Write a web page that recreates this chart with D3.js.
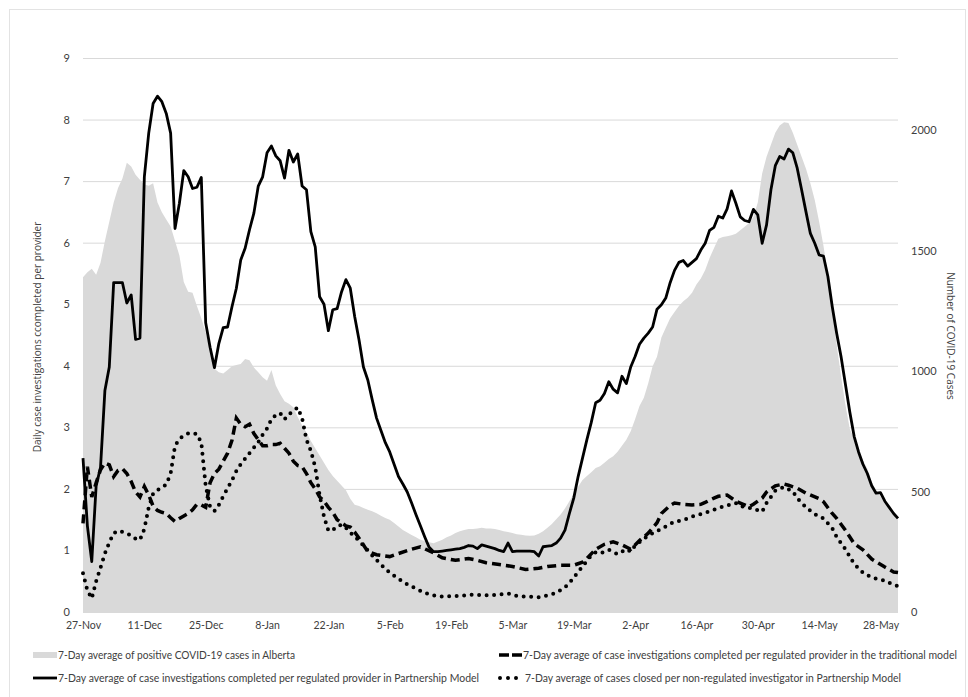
<!DOCTYPE html>
<html>
<head>
<meta charset="utf-8">
<script src="https://cdn.jsdelivr.net/npm/d3@7"></script>
<style>
  body { margin: 0; background: #fff; }
  svg text { font-family: "Lato", sans-serif; fill: #404040; }
</style>
</head>
<body>
<svg></svg>
<script>
// Data: days since 27-Nov-2020 and the values
// ------------------------------------------
var startDate = Date.UTC(2020, 10, 27);

// 7-day average of positive COVID-19 cases in Alberta (right axis), one value per day 0..186
var caseValues = [
  1390, 1410, 1425, 1400, 1450, 1540, 1620, 1700, 1760, 1800,
  1865, 1850, 1815, 1795, 1775, 1770, 1780, 1700, 1660, 1630,
  1600, 1540, 1480, 1370, 1330, 1325, 1270, 1220, 1160, 1090,
  1010, 995, 990, 1005, 1020, 1025, 1030, 1050, 1045, 1015,
  995, 975, 960, 1005, 940, 905, 875, 865, 850, 810,
  775, 745, 710, 680, 650, 620, 590, 565, 545, 525,
  505, 470, 445, 440, 432, 425, 418, 410, 400, 390,
  383, 370, 355, 340, 330, 320, 310, 300, 295, 290,
  285, 293, 300, 310, 318, 328, 335, 340, 345, 345,
  347, 350, 347, 347, 345, 340, 335, 332, 328, 323,
  321, 318, 317, 318, 325, 335, 350, 365, 385, 405,
  430, 460, 490, 520, 548, 565, 580, 598, 605, 620,
  635, 647, 665, 690, 715, 750, 800, 855, 890, 950,
  1020, 1060, 1140, 1180, 1220, 1245, 1270, 1290, 1305, 1325,
  1360, 1385, 1420, 1470, 1510, 1550, 1557, 1560, 1564, 1570,
  1585, 1599, 1615, 1640, 1700, 1820, 1890, 1940, 1990, 2020,
  2033, 2030, 1990, 1940, 1890, 1840, 1780, 1710, 1620, 1520,
  1400, 1260, 1110, 980, 860, 760, 720, 670, 630, 595,
  540, 505, 480, 455, 430, 410, 397
];

// regulated provider, Partnership Model (solid), one value per day 0..186
var partnerValues = [
  2.50, 1.40, 0.82, 2.05, 2.35, 3.60, 3.98, 5.35, 5.35, 5.35,
  5.02, 5.15, 4.43, 4.45, 7.07, 7.78, 8.26, 8.38, 8.29, 8.10,
  7.78, 6.23, 6.64, 7.17, 7.07, 6.88, 6.90, 7.06, 4.70, 4.30,
  3.97, 4.36, 4.62, 4.63, 4.96, 5.26, 5.72, 5.91, 6.21, 6.48,
  6.92, 7.07, 7.46, 7.57, 7.41, 7.33, 7.05, 7.50, 7.31, 7.44,
  6.92, 6.86, 6.18, 5.93, 5.12, 5.00, 4.57, 4.91, 4.93, 5.20,
  5.40, 5.26, 4.80, 4.42, 3.98, 3.77, 3.45, 3.15, 2.95, 2.75,
  2.60, 2.40, 2.20, 2.08, 1.95, 1.77, 1.58, 1.40, 1.22, 1.05,
  0.98, 0.98, 0.99, 1.00, 1.01, 1.02, 1.03, 1.05, 1.08, 1.07,
  1.03, 1.09, 1.07, 1.05, 1.03, 1.00, 0.98, 1.12, 0.98, 0.99,
  0.99, 0.99, 0.99, 0.98, 0.91, 1.06, 1.07, 1.08, 1.12, 1.20,
  1.33, 1.60, 1.85, 2.20, 2.50, 2.80, 3.08, 3.40, 3.44, 3.55,
  3.74, 3.62, 3.56, 3.83, 3.71, 3.98, 4.15, 4.35, 4.45, 4.53,
  4.63, 4.92, 4.99, 5.10, 5.35, 5.55, 5.68, 5.71, 5.62, 5.68,
  5.74, 5.88, 5.99, 6.20, 6.25, 6.43, 6.40, 6.55, 6.84, 6.64,
  6.42, 6.36, 6.34, 6.54, 6.45, 5.99, 6.29, 6.86, 7.25, 7.40,
  7.36, 7.52, 7.46, 7.21, 6.86, 6.50, 6.15, 5.99, 5.80, 5.78,
  5.45, 4.96, 4.53, 4.15, 3.70, 3.25, 2.85, 2.60, 2.40, 2.25,
  2.05, 1.93, 1.94, 1.80, 1.70, 1.60, 1.52
];

// regulated provider, traditional model (dashed)
var tradDays = [
  0, 1, 2, 3, 4, 5, 6, 7, 8, 9, 10, 11, 12, 13, 14, 15, 16, 17, 18, 19,
  20, 21, 22, 23, 24, 25, 26, 27, 28, 29, 30, 31, 32, 33, 34, 35, 36, 37, 38, 39,
  40, 41, 42, 43, 44, 45, 46, 47, 48, 49, 50, 51, 52, 53, 54, 55, 56, 57, 58, 59,
  60, 61, 62, 63, 65, 67, 70, 72, 75, 77, 80, 82, 85, 88, 90, 92, 95, 98, 101, 104,
  106, 109, 112, 114, 115, 117, 119, 121, 123, 125, 127, 129, 131, 132, 134, 135, 137, 139, 141, 142,
  144, 145, 147, 149, 150, 152, 153, 155, 156, 158, 160, 161, 163, 165, 168, 169, 171, 172, 174, 176,
  178, 180, 183, 185, 186
];
var tradValues = [
  1.44, 2.36, 1.87, 2.10, 2.31, 2.42, 2.39, 2.20, 2.30, 2.33, 2.25, 2.12, 1.95, 1.87, 2.04, 1.90, 1.72, 1.65, 1.62, 1.60,
  1.53, 1.47, 1.52, 1.56, 1.60, 1.66, 1.75, 1.74, 1.70, 2.10, 2.25, 2.32, 2.45, 2.58, 2.79, 3.15, 3.05, 3.01, 3.05, 2.90,
  2.80, 2.70, 2.70, 2.72, 2.72, 2.74, 2.66, 2.58, 2.45, 2.38, 2.36, 2.25, 2.10, 2.00, 1.87, 1.80, 1.70, 1.62, 1.50, 1.45,
  1.40, 1.38, 1.30, 1.20, 0.98, 0.93, 0.90, 0.95, 1.02, 1.06, 0.96, 0.88, 0.84, 0.87, 0.84, 0.80, 0.77, 0.74, 0.69, 0.71,
  0.74, 0.76, 0.76, 0.81, 0.87, 1.02, 1.10, 1.14, 1.09, 1.02, 1.16, 1.28, 1.45, 1.60, 1.73, 1.77, 1.75, 1.74, 1.75, 1.78,
  1.85, 1.88, 1.90, 1.80, 1.77, 1.71, 1.75, 1.85, 1.95, 2.05, 2.08, 2.06, 2.01, 1.93, 1.84, 1.79, 1.60, 1.52, 1.33, 1.11,
  1.01, 0.86, 0.73, 0.65, 0.64
];

// non-regulated investigator, Partnership Model (dotted)
var nonRegDays = [
  0, 1, 2, 3, 4, 5, 6, 7, 8, 9, 10, 11, 12, 13, 14, 15, 16, 17, 18, 19,
  20, 21, 22, 23, 24, 25, 26, 27, 28, 29, 30, 31, 32, 33, 34, 35, 36, 37, 38, 39,
  40, 41, 42, 43, 44, 45, 46, 47, 48, 49, 50, 51, 52, 53, 54, 55, 56, 57, 58, 59,
  60, 61, 62, 64, 66, 68, 70, 72, 74, 76, 78, 80, 82, 85, 89, 93, 97, 99, 101, 104,
  106, 108, 110, 111, 113, 114, 116, 117, 118, 120, 122, 124, 125, 126, 128, 130, 132, 135, 137, 139,
  142, 144, 146, 148, 149, 150, 152, 153, 155, 156, 157, 158, 160, 162, 163, 165, 167, 169, 171, 172,
  174, 175, 176, 178, 180, 183, 185, 186
];
var nonRegValues = [
  0.63, 0.35, 0.22, 0.50, 0.72, 0.95, 1.13, 1.28, 1.32, 1.30, 1.28, 1.24, 1.19, 1.17, 1.35, 1.70, 1.92, 1.98, 2.03, 2.07,
  2.25, 2.70, 2.81, 2.87, 2.90, 2.91, 2.89, 2.75, 2.05, 1.71, 1.64, 1.74, 1.88, 2.01, 2.14, 2.29, 2.40, 2.49, 2.58, 2.67,
  2.76, 2.88, 2.98, 3.13, 3.20, 3.23, 3.13, 3.21, 3.27, 3.32, 3.15, 2.80, 2.62, 2.35, 1.90, 1.55, 1.32, 1.33, 1.39, 1.42,
  1.37, 1.29, 1.23, 1.08, 0.92, 0.77, 0.64, 0.54, 0.45, 0.38, 0.31, 0.27, 0.25, 0.26, 0.28, 0.27, 0.30, 0.26, 0.25, 0.24,
  0.27, 0.31, 0.40, 0.47, 0.65, 0.74, 0.92, 0.97, 0.95, 1.01, 0.94, 1.02, 0.98, 1.08, 1.19, 1.28, 1.35, 1.47, 1.49, 1.55,
  1.61, 1.66, 1.71, 1.75, 1.77, 1.72, 1.69, 1.68, 1.63, 1.77, 1.87, 1.97, 2.03, 1.96, 1.85, 1.70, 1.59, 1.52, 1.36, 1.22,
  1.02, 0.90, 0.78, 0.64, 0.56, 0.51, 0.44, 0.42
];

// Axis ticks
var xTickDays = [0, 14, 28, 42, 56, 70, 84, 98, 112, 126, 140, 154, 168, 182];
var leftTicks = [0, 1, 2, 3, 4, 5, 6, 7, 8, 9];
var rightTicks = [0, 500, 1000, 1500, 2000];

var legendLabels = [
  "7-Day average of positive COVID-19 cases in Alberta",
  "7-Day average of case investigations completed per regulated provider in the traditional model",
  "7-Day average of case investigations completed per regulated provider in Partnership Model",
  "7-Day average of cases closed per non-regulated investigator in Partnership Model"
];

// Step 1: Set up chart
//------------------------------------------
var svgWidth = 968;
var svgHeight = 697;

var margin = { top: 58, right: 70, bottom: 85, left: 83 };
var width = svgWidth - margin.left - margin.right;
var height = svgHeight - margin.top - margin.bottom;

var svg = d3.select("svg")
  .attr("width", svgWidth)
  .attr("height", svgHeight);

// light chart border
svg.append("rect")
  .attr("x", 9.5).attr("y", 9.5)
  .attr("width", 956).attr("height", 720)
  .attr("fill", "none")
  .attr("stroke", "#e3e3e3");

var chartGroup = svg.append("g")
  .attr("transform", `translate(${margin.left},${margin.top})`);

function dayDate(d) { return d3.utcDay.offset(new Date(startDate), d); }

// Step 2: Scales
//------------------------------------------
var xScale = d3.scaleUtc()
  .domain([dayDate(0), dayDate(186)])
  .range([0, width]);

var yLeft = d3.scaleLinear().domain([0, 9]).range([height, 0]);
var yRight = d3.scaleLinear().domain([0, 2300]).range([height, 0]);

// Step 3: Gridlines
//------------------------------------------
chartGroup.append("g")
  .selectAll("line")
  .data(leftTicks)
  .enter()
  .append("line")
  .attr("x1", 0)
  .attr("x2", width)
  .attr("y1", d => yLeft(d) + 0.5)
  .attr("y2", d => yLeft(d) + 0.5)
  .attr("stroke", "#d9d9d9")
  .attr("stroke-width", 1);

// Step 4: Cases area (right axis)
//------------------------------------------
var area = d3.area()
  .x((d, i) => xScale(dayDate(i)))
  .y0(height)
  .y1(d => yRight(d));

chartGroup.append("path")
  .datum(caseValues)
  .attr("d", area)
  .attr("fill", "#d9d9d9");

// Step 5: Lines (left axis)
//------------------------------------------
var dayLine = d3.line()
  .x(d => xScale(dayDate(d[0])))
  .y(d => yLeft(d[1]));

var tradData = tradDays.map((d, i) => [d, tradValues[i]]);
var nonRegData = nonRegDays.map((d, i) => [d, nonRegValues[i]]);
var partnerData = partnerValues.map((v, i) => [i, v]);

chartGroup.append("path")
  .datum(tradData)
  .attr("d", dayLine)
  .attr("fill", "none")
  .attr("stroke", "#000")
  .attr("stroke-width", 3.5)
  .attr("stroke-dasharray", "9 5");

chartGroup.append("path")
  .datum(nonRegData)
  .attr("d", dayLine)
  .attr("fill", "none")
  .attr("stroke", "#000")
  .attr("stroke-width", 4)
  .attr("stroke-linecap", "round")
  .attr("stroke-dasharray", "0 7.5");

chartGroup.append("path")
  .datum(partnerData)
  .attr("d", dayLine)
  .attr("fill", "none")
  .attr("stroke", "#000")
  .attr("stroke-width", 2.8)
  .attr("stroke-linejoin", "round");

// Step 6: Axes
//------------------------------------------
var bottomAxis = d3.axisBottom(xScale)
  .tickValues(xTickDays.map(dayDate))
  .tickFormat(d3.utcFormat("%-d-%b"))
  .tickSize(0)
  .tickPadding(10);

var leftAxis = d3.axisLeft(yLeft)
  .tickValues(leftTicks)
  .tickSize(0)
  .tickPadding(13);

var rightAxis = d3.axisRight(yRight)
  .tickValues(rightTicks)
  .tickFormat(d3.format("d"))
  .tickSize(0)
  .tickPadding(13);

chartGroup.append("g")
  .attr("transform", `translate(0, ${height})`)
  .call(bottomAxis)
  .call(g => g.select(".domain").remove())
  .selectAll("text").attr("font-size", 10.5);

chartGroup.append("g")
  .call(leftAxis)
  .call(g => g.select(".domain").remove())
  .selectAll("text").attr("font-size", 11);

chartGroup.append("g")
  .attr("transform", `translate(${width}, 0)`)
  .call(rightAxis)
  .call(g => g.select(".domain").remove())
  .selectAll("text").attr("font-size", 11);

// axis titles
svg.append("text")
  .attr("transform", "translate(41, 337) rotate(-90)")
  .attr("text-anchor", "middle")
  .style("font-family", "'Open Sans', sans-serif")
  .attr("font-size", 10)
  .text("Daily case investigations ccompleted per provider");

svg.append("text")
  .attr("transform", "translate(947, 336) rotate(90)")
  .attr("text-anchor", "middle")
  .style("font-family", "'Open Sans', sans-serif")
  .attr("font-size", 10)
  .text("Number of COVID-19 Cases");

// Step 7: Legend
//------------------------------------------
var legend = svg.append("g");

function legendText(x, y, label, len) {
  legend.append("text")
    .attr("x", x).attr("y", y)
    .attr("font-size", 10.5)
    .attr("textLength", len)
    .attr("lengthAdjust", "spacingAndGlyphs")
    .text(label);
}

// cases swatch
legend.append("rect")
  .attr("x", 33).attr("y", 652)
  .attr("width", 24).attr("height", 6)
  .attr("fill", "#d9d9d9");
legendText(58, 659, legendLabels[0], 237);

// traditional model swatch
legend.append("line")
  .attr("x1", 499).attr("x2", 522)
  .attr("y1", 655).attr("y2", 655)
  .attr("stroke", "#000").attr("stroke-width", 3.5)
  .attr("stroke-dasharray", "10 3");
legendText(523, 659, legendLabels[1], 434);

// partnership regulated swatch
legend.append("line")
  .attr("x1", 33).attr("x2", 57)
  .attr("y1", 678).attr("y2", 678)
  .attr("stroke", "#000").attr("stroke-width", 2.8);
legendText(58, 682, legendLabels[2], 421);

// non-regulated swatch
legend.append("line")
  .attr("x1", 500).attr("x2", 520)
  .attr("y1", 678).attr("y2", 678)
  .attr("stroke", "#000").attr("stroke-width", 4)
  .attr("stroke-linecap", "round")
  .attr("stroke-dasharray", "0 8");
legendText(525, 682, legendLabels[3], 376);
</script>
</body>
</html>
